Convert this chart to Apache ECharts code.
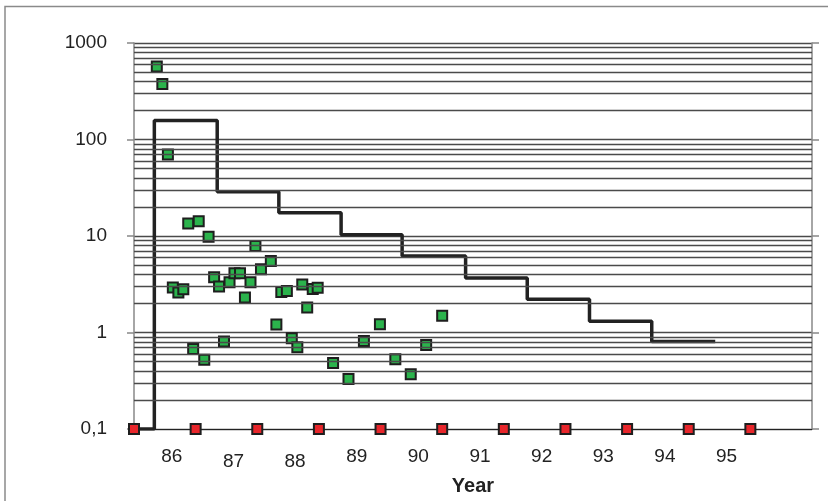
<!DOCTYPE html>
<html>
<head>
<meta charset="utf-8">
<script src="https://cdn.jsdelivr.net/npm/echarts@6/dist/echarts.min.js"></script>
<style>
  html, body { margin: 0; padding: 0; background: #fff; }
  #chart { width: 828px; height: 501px; }
</style>
</head>
<body>
<div id="chart"></div>
<script>
// Year labels, one per year band
const yearLabels = ['86', '87', '88', '89', '90', '91', '92', '93', '94', '95', ''];

// Measured activity (green squares): decimal year and value
const measX = [86.37, 86.46, 86.55, 86.63, 86.72, 86.80, 86.88, 86.96, 87.05, 87.14,
               87.21, 87.30, 87.38, 87.46, 87.55, 87.63, 87.72, 87.80, 87.89, 87.97,
               88.06, 88.22, 88.31, 88.39, 88.48, 88.56, 88.65, 88.73, 88.81, 88.90,
               88.98, 89.23, 89.48, 89.73, 89.99, 90.24, 90.49, 90.74, 91.00];
const measY = [570, 375, 70, 2.93, 2.6, 2.81, 13.5, 0.675, 14.2, 0.524,
               9.86, 3.74, 3.0, 0.81, 3.32, 4.12, 4.12, 2.31, 3.32, 7.88,
               4.53, 5.52, 1.21, 2.64, 2.7, 0.871, 0.703, 3.15, 1.82, 2.83,
               2.92, 0.484, 0.331, 0.816, 1.22, 0.528, 0.37, 0.743, 1.49];

// Annual step curve
const stepX = [86, 86.33, 87.35, 88.35, 89.36, 90.35, 91.38, 92.38, 93.39, 94.40, 95.43];
const stepY = [0.1, 157, 28.8, 17.4, 10.3, 6.2, 3.68, 2.22, 1.31, 0.81, 0.81];

// Baseline markers (red squares)
const baseX = [86, 87, 88, 89, 90, 91, 92, 93, 94, 95, 96];
const baseY = [0.1, 0.1, 0.1, 0.1, 0.1, 0.1, 0.1, 0.1, 0.1, 0.1, 0.1];

// Minor log grid values (2..9 within each decade)
const minorGrid = [];
[0.1, 1, 10, 100].forEach(d => {
  for (let k = 2; k <= 9; k++) minorGrid.push(+(k * d).toPrecision(3));
});

const gridColor = '#4a4a4a';
const textColor = '#222';
const font = 'Liberation Sans, Arial, sans-serif';

const chart = echarts.init(document.getElementById('chart'), null, { renderer: 'canvas' });

chart.setOption({
  animation: false,
  backgroundColor: '#fff',
  graphic: [{
    type: 'rect',
    shape: { x: 5, y: 6.5, width: 900, height: 600 },
    style: { fill: 'none', stroke: '#8a8a8a', lineWidth: 1.5 },
    z: -1
  }],
  grid: { left: 134, right: 16, top: 43, bottom: 71 },
  xAxis: [{
    type: 'value',
    min: 86,
    max: 97,
    axisLine: { show: true, lineStyle: { color: '#222', width: 1.2 } },
    axisTick: { show: false },
    axisLabel: { show: false },
    splitLine: { show: false }
  }, {
    type: 'category',
    data: yearLabels,
    boundaryGap: true,
    position: 'bottom',
    name: 'Year',
    nameLocation: 'middle',
    nameGap: 46,
    nameTextStyle: { fontFamily: font, fontSize: 20, fontWeight: 'bold', color: textColor },
    axisLine: { show: false },
    axisTick: { show: false },
    splitLine: { show: false },
    axisLabel: {
      interval: 0,
      margin: 18,
      formatter: v => (v === '87' || v === '88') ? '{lo|' + v + '}' : '{hi|' + v + '}',
      rich: {
        hi: { fontFamily: font, fontSize: 19, color: textColor, padding: [0, 0, 0, 14], lineHeight: 19 },
        lo: { fontFamily: font, fontSize: 19, color: textColor, padding: [10, 0, 0, 14], lineHeight: 19 }
      }
    }
  }],
  yAxis: [{
    type: 'log',
    logBase: 10,
    min: 0.1,
    max: 1000,
    axisLine: { show: true, lineStyle: { color: '#888', width: 1.5 } },
    axisTick: { show: true, length: 7, lineStyle: { color: '#888', width: 1.5 } },
    axisLabel: {
      margin: 27,
      fontFamily: font,
      fontSize: 19,
      color: textColor,
      formatter: v => String(+(+v).toPrecision(3)).replace('.', ',')
    },
    splitLine: { show: true, lineStyle: { color: gridColor, width: 1.3 } }
  }, {
    type: 'log',
    logBase: 10,
    min: 0.1,
    max: 1000,
    position: 'right',
    axisLine: { show: true, lineStyle: { color: '#888', width: 1.5 } },
    axisTick: { show: true, length: 7, lineStyle: { color: '#888', width: 1.5 } },
    axisLabel: { show: false },
    splitLine: { show: false }
  }],
  series: [{
    // minor log grid lines
    type: 'line',
    data: [],
    xAxisIndex: 0,
    yAxisIndex: 0,
    silent: true,
    markLine: {
      silent: true,
      symbol: 'none',
      label: { show: false },
      animation: false,
      lineStyle: { color: gridColor, width: 1.3, type: 'solid' },
      data: minorGrid.map(v => ({ yAxis: v }))
    }
  }, {
    type: 'line',
    step: 'end',
    xAxisIndex: 0,
    yAxisIndex: 0,
    data: stepX.map((x, i) => [x, stepY[i]]),
    showSymbol: false,
    symbol: 'none',
    lineStyle: { color: '#222', width: 3.5 },
    z: 3
  }, {
    type: 'scatter',
    xAxisIndex: 0,
    yAxisIndex: 0,
    data: measX.map((x, i) => [x, measY[i]]),
    symbol: 'rect',
    symbolSize: 10,
    itemStyle: { color: '#2bb34c', borderColor: '#1e1e1e', borderWidth: 2, opacity: 1 },
    z: 4
  }, {
    type: 'scatter',
    xAxisIndex: 0,
    yAxisIndex: 0,
    clip: false,
    data: baseX.map((x, i) => [x, baseY[i]]),
    symbol: 'rect',
    symbolSize: 10,
    itemStyle: { color: '#e8262b', borderColor: '#1e1e1e', borderWidth: 2, opacity: 1 },
    z: 5
  }]
});
</script>
</body>
</html>
